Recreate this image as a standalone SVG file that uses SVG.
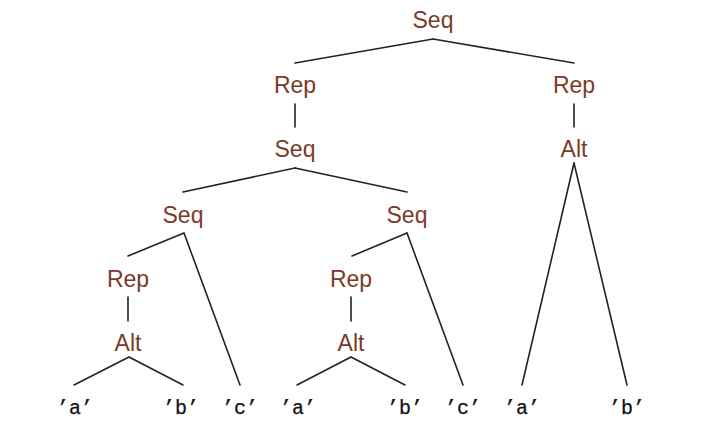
<svg xmlns="http://www.w3.org/2000/svg" width="702" height="422" viewBox="0 0 702 422">
<style>
.n{font-family:"Liberation Sans",Arial,sans-serif;font-size:23px;fill:#7a3a26;text-anchor:middle}
.l{font-family:"Liberation Mono","Courier New",monospace;font-size:20px;fill:#111;text-anchor:middle;stroke:#111;stroke-width:0.25}
#edges line{stroke:#222;stroke-width:1.6;stroke-linecap:round}
</style>
<rect width="702" height="422" fill="#fff"/>
<g id="edges">
<line x1="433" y1="39" x2="295" y2="63"/>
<line x1="433" y1="39" x2="574" y2="63"/>
<line x1="295" y1="104" x2="295" y2="127"/>
<line x1="574" y1="104" x2="574" y2="127"/>
<line x1="295" y1="168" x2="183" y2="192"/>
<line x1="295" y1="168" x2="407" y2="192"/>
<line x1="184" y1="233" x2="128" y2="256"/>
<line x1="184" y1="233" x2="240" y2="385"/>
<line x1="128" y1="297" x2="128" y2="321"/>
<line x1="129" y1="357" x2="74" y2="385"/>
<line x1="129" y1="357" x2="183" y2="385"/>
<line x1="407" y1="233" x2="352" y2="256"/>
<line x1="407" y1="233" x2="463" y2="385"/>
<line x1="351" y1="297" x2="351" y2="321"/>
<line x1="351" y1="357" x2="297" y2="385"/>
<line x1="351" y1="357" x2="405" y2="385"/>
<line x1="574" y1="163" x2="522" y2="385"/>
<line x1="574" y1="163" x2="627" y2="385"/>
</g>
<g id="seq_root"><text class="n" x="433" y="28">Seq</text></g>
<g id="rep_left"><text class="n" x="295" y="93">Rep</text></g>
<g id="rep_right"><text class="n" x="574" y="93">Rep</text></g>
<g id="seq_mid"><text class="n" x="295" y="157">Seq</text></g>
<g id="alt_right"><text class="n" x="574" y="157">Alt</text></g>
<g id="seq_l"><text class="n" x="183" y="223">Seq</text></g>
<g id="seq_r"><text class="n" x="407" y="223">Seq</text></g>
<g id="rep_l"><text class="n" x="128" y="287">Rep</text></g>
<g id="rep_r"><text class="n" x="351" y="287">Rep</text></g>
<g id="alt_l"><text class="n" x="128" y="351">Alt</text></g>
<g id="alt_r"><text class="n" x="351" y="351">Alt</text></g>
<g id="leaf1"><text class="l" x="75" y="414">’a’</text></g>
<g id="leaf2"><text class="l" x="181" y="414">’b’</text></g>
<g id="leaf3"><text class="l" x="240" y="414">’c’</text></g>
<g id="leaf4"><text class="l" x="298" y="414">’a’</text></g>
<g id="leaf5"><text class="l" x="405" y="414">’b’</text></g>
<g id="leaf6"><text class="l" x="463" y="414">’c’</text></g>
<g id="leaf7"><text class="l" x="522" y="414">’a’</text></g>
<g id="leaf8"><text class="l" x="627" y="414">’b’</text></g>
</svg>
